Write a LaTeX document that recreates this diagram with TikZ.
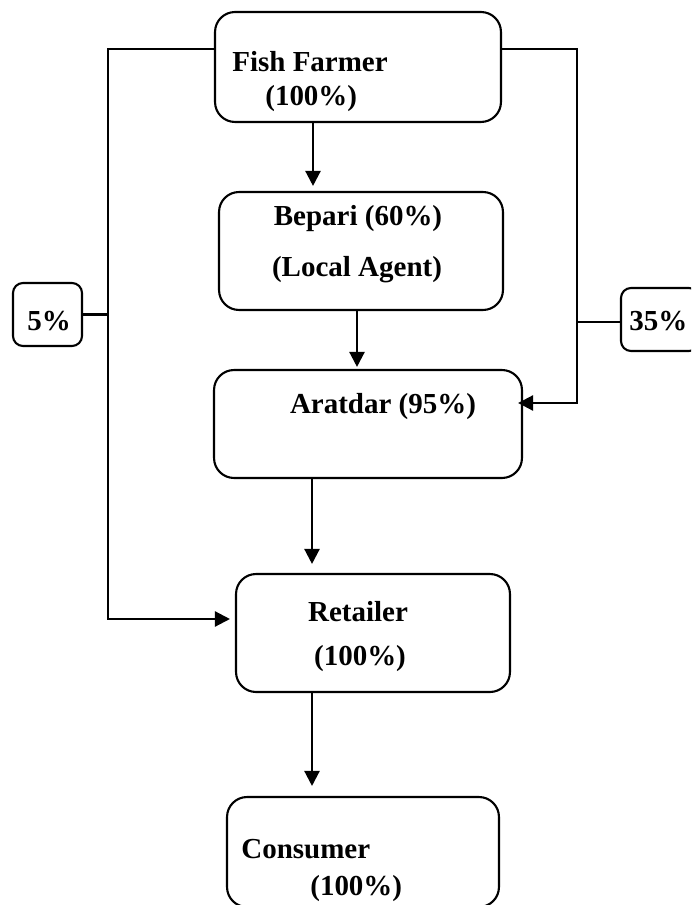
\documentclass[tikz,border=0pt]{standalone}
\usepackage{fontspec}
\setmainfont{Liberation Serif}
\usetikzlibrary{arrows.meta}
\begin{document}
\begin{tikzpicture}[x=0.02cm,y=-0.02cm,
  box/.style={draw,line width=1.2pt,rounded corners=0.4cm,inner sep=0pt},
  smallbox/.style={draw,line width=1.2pt,rounded corners=0.2cm,inner sep=0pt},
  txt/.style={inner sep=0pt,font=\fontsize{16.5}{20}\selectfont\bfseries},
  conn/.style={line width=1.3pt},
  arr/.style={line width=1.3pt,-{Triangle[length=0.3cm,width=0.3cm]}}]
\useasboundingbox (0,0) rectangle (691,905);
\clip (0,0) rectangle (691,905);
% boxes
\node[box,minimum width=5.72cm,minimum height=2.2cm] (ff) at (358,67) {};
\node[box,minimum width=5.68cm,minimum height=2.36cm] (bep) at (361,251) {};
\node[box,minimum width=6.16cm,minimum height=2.16cm] (ara) at (368,424) {};
\node[box,minimum width=5.48cm,minimum height=2.36cm] (ret) at (373,633) {};
\node[box,minimum width=5.44cm,minimum height=2.2cm] (con) at (363,852) {};
\node[smallbox,minimum width=1.38cm,minimum height=1.26cm] (p5) at (47.5,314.5) {};
\node[smallbox,minimum width=1.56cm,minimum height=1.26cm] (p35) at (660,319.5) {};
% texts
\node[txt,anchor=base west] (t1) at (232,72) {Fish Farmer};
\node[txt,anchor=base west] (t2) at (265,106) {(100\%)};
\node[txt,anchor=base] (t3) at (358,226) {Bepari (60\%)};
\node[txt,anchor=base] (t4) at (357,276) {(Local Agent)};
\node[txt,anchor=base] (t5) at (383,413) {Aratdar (95\%)};
\node[txt,anchor=base] (t6) at (358,621) {Retailer};
\node[txt,anchor=base] (t7) at (360,665) {(100\%)};
\node[txt,anchor=base west] (t8) at (241,858) {Consumer};
\node[txt,anchor=base west] (t9) at (310,895) {(100\%)};
\node[txt,anchor=base west] (t10) at (27,330) {5\%};
\node[txt,anchor=base west] (t11) at (629,330) {35\%};
% helper coordinates
\coordinate (cA) at (313,0);
\coordinate (cB) at (357,0);
\coordinate (cC) at (312,0);
\coordinate (L1) at (108,49);
\coordinate (L2) at (108,619);
\coordinate (R1) at (577,49);
\coordinate (R2) at (577,403);
% vertical arrows
\draw[arr,shorten >=0.1cm] (cA |- ff.south) -- (cA |- bep.north);
\draw[arr,shorten >=0.04cm] (cB |- bep.south) -- (cB |- ara.north);
\draw[arr,shorten >=0.18cm] (cC |- ara.south) -- (cC |- ret.north);
\draw[arr,shorten >=0.2cm] (cC |- ret.south) -- (cC |- con.north);
% side routes
\draw[arr,shorten >=0.1cm] (ff.west |- L1) -- (L1) -- (L2) -- (ret.west |- L2);
\draw[arr,shorten >=-0.1cm] (ff.east |- R1) -- (R1) -- (R2) -- (ara.east |- R2);
\draw[conn] (p5.east) -- (p5.east -| L1);
\draw[conn] (p35.west |- 0,322) -- (R1 |- 0,322);
\end{tikzpicture}
\end{document}
